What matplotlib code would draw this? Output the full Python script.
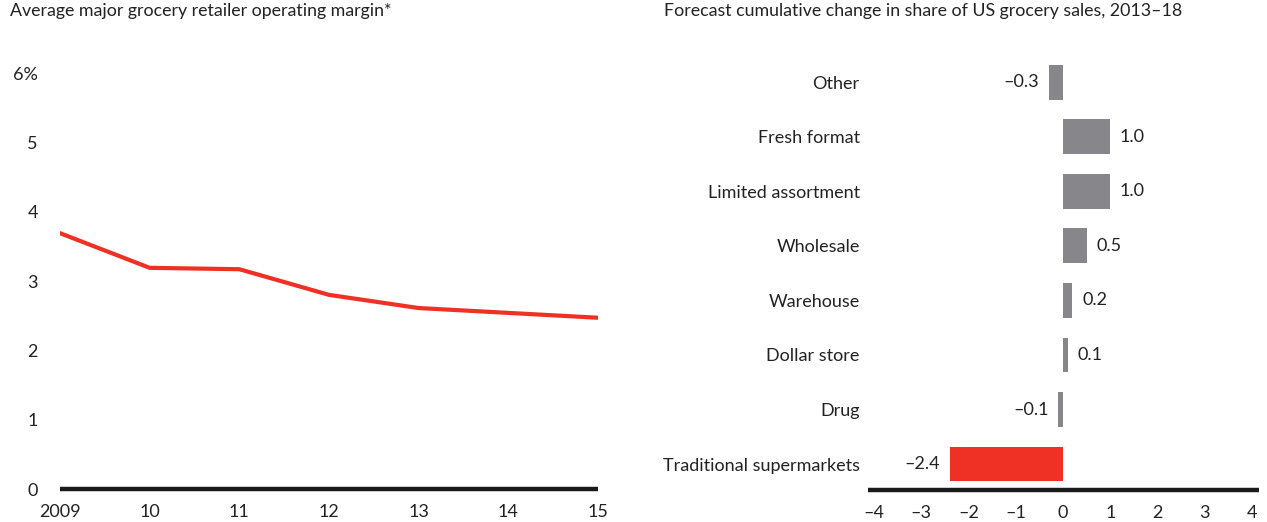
import matplotlib
matplotlib.use("Agg")
import matplotlib.pyplot as plt

plt.rcParams['font.family'] = ['Lato', 'DejaVu Sans']

# left panel data
years = [2009, 2010, 2011, 2012, 2013, 2014, 2015]
year_labels = ['2009', '10', '11', '12', '13', '14', '15']
margin = [3.69, 3.19, 3.17, 2.80, 2.61, 2.54, 2.47]
margin_ticks = [0, 1, 2, 3, 4, 5, 6]
margin_tick_labels = ['0', '1', '2', '3', '4', '5', '6%']

# right panel data (top to bottom)
formats = ['Other', 'Fresh format', 'Limited assortment', 'Wholesale',
           'Warehouse', 'Dollar store', 'Drug', 'Traditional supermarkets']
share_change = [-0.3, 1.0, 1.0, 0.5, 0.2, 0.1, -0.1, -2.4]
share_ticks = [-4, -3, -2, -1, 0, 1, 2, 3, 4]

RED = '#EE3124'
GRAY = '#87878B'
TXT = '#222222'
FS = 13

W, H = 1267, 522
fig = plt.figure(figsize=(W / 100, H / 100), dpi=100)

def frac(x0, y_top, x1, y_bot):
    return [x0 / W, 1 - y_bot / H, (x1 - x0) / W, (y_bot - y_top) / H]

# ---- left: line chart
ax1 = fig.add_axes(frac(60, 73, 598, 489))
ax1.plot(years, margin, color=RED, lw=3, solid_capstyle='round')
ax1.set_xlim(2009, 2015)
ax1.set_ylim(0, 6)
ax1.set_xticks(years)
ax1.set_xticklabels(year_labels)
ax1.set_yticks(margin_ticks)
ax1.set_yticklabels(margin_tick_labels)
for lab in ax1.get_yticklabels():
    lab.set_y(lab.get_position()[1])
for s in ['top', 'right', 'left']:
    ax1.spines[s].set_visible(False)
ax1.spines['bottom'].set_linewidth(3.2)
ax1.spines['bottom'].set_color('#1a1a1a')
ax1.spines['bottom'].set_capstyle('butt')
ax1.tick_params(axis='x', length=0, pad=11, labelsize=FS, labelcolor=TXT)
ax1.tick_params(axis='y', length=0, pad=16, labelsize=FS, labelcolor=TXT)

fig.text(10 / W, 1 - 3 / H, 'Average major grocery retailer operating margin*',
         ha='left', va='top', fontsize=12.8, color=TXT)

# ---- right: horizontal bar chart
ax2 = fig.add_axes(frac(868, 55, 1259, 490))
ypos = list(range(len(formats) - 1, -1, -1))
colors = [RED if f == 'Traditional supermarkets' else GRAY for f in formats]
ax2.barh(ypos, share_change, height=0.64, color=colors)
ax2.set_xlim(-4.13, 4.15)
ax2.set_ylim(-0.476, 7.5)
ax2.set_yticks(ypos)
ax2.set_yticklabels(formats)
ax2.set_xticks(share_ticks)
ax2.set_xticklabels([str(t).replace('-', '\u2013') for t in share_ticks])
for s in ['top', 'right', 'left']:
    ax2.spines[s].set_visible(False)
ax2.spines['bottom'].set_linewidth(3.2)
ax2.spines['bottom'].set_color('#1a1a1a')
ax2.spines['bottom'].set_capstyle('butt')
ax2.tick_params(axis='x', length=0, pad=11, labelsize=FS, labelcolor=TXT)
ax2.tick_params(axis='y', length=0, pad=6, labelsize=FS, labelcolor=TXT)

for y, v in zip(ypos, share_change):
    lab = f'{v:.1f}'.replace('-', '\u2013')
    off = 7 if v >= 0 else -7
    ax2.annotate(lab, (v, y), xytext=(off, 0), textcoords='offset points',
                 ha='left' if v >= 0 else 'right', va='center',
                 fontsize=FS, color=TXT)

fig.text(664 / W, 1 - 3 / H,
         'Forecast cumulative change in share of US grocery sales, 2013\u201318',
         ha='left', va='top', fontsize=12.8, color=TXT)

fig.savefig('out.png', dpi=100)
